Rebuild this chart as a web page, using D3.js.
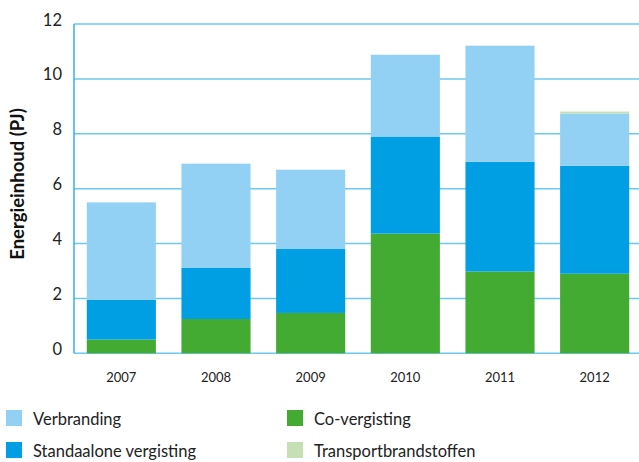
<!DOCTYPE html>
<html><head><meta charset="utf-8">
<script src="https://cdn.jsdelivr.net/npm/d3@7"></script>
<style>body{margin:0;background:#fff;}svg{display:block;font-family:Lato,sans-serif;}</style>
</head><body>
<svg id="c" width="639" height="462"></svg>
<script>
const years = ["2007","2008","2009","2010","2011","2012"];
const coVergisting = [0.5, 1.25, 1.47, 4.36, 2.98, 2.9];
const standalone = [1.45, 1.86, 2.33, 3.54, 4.0, 3.93];
const verbranding = [3.55, 3.8, 2.89, 2.98, 4.23, 1.91];
const transport = [0, 0, 0, 0, 0, 0.07];
const yTicks = [0, 2, 4, 6, 8, 10, 12];
const seriesNames = ["Co-vergisting","Standaalone vergisting","Verbranding","Transportbrandstoffen"];
const seriesColors = ["#43aa32","#009fe3","#92d1f3","#c5e0b4"];

const svg = d3.select("#c");
const x = d3.scaleBand().domain(years).range([74, 642]).paddingInner(0.27).paddingOuter(0.135);
const y = d3.scaleLinear().domain([0, 12]).range([353.3, 24]);

svg.append("g").selectAll("line").data(yTicks).join("line")
  .attr("x1", 74).attr("x2", 639)
  .attr("y1", d => y(d)).attr("y2", d => y(d))
  .attr("stroke", "#6ec8ef").attr("stroke-width", 1.5);
svg.append("line").attr("x1", 74).attr("x2", 74).attr("y1", y(12)).attr("y2", y(0))
  .attr("stroke", "#35b0e8").attr("stroke-width", 1.5);

const rows = years.map((yr, i) => ({year: yr, s0: coVergisting[i], s1: standalone[i], s2: verbranding[i], s3: transport[i]}));
const stacked = d3.stack().keys(["s0","s1","s2","s3"])(rows);
svg.append("g").selectAll("g").data(stacked).join("g")
  .attr("fill", (d, i) => seriesColors[i])
  .selectAll("rect").data(d => d).join("rect")
  .attr("x", d => x(d.data.year)).attr("width", x.bandwidth())
  .attr("y", d => y(d[1])).attr("height", d => Math.max(0, y(d[0]) - y(d[1])));

svg.append("g").selectAll("text").data(yTicks).join("text")
  .attr("x", 62).attr("y", d => y(d) + 1.5).attr("text-anchor", "end")
  .attr("font-size", 16.5).attr("fill", "#222").text(d => d);

svg.append("g").selectAll("text").data(years).join("text")
  .attr("x", d => x(d) + x.bandwidth() / 2).attr("y", 381.5).attr("text-anchor", "middle")
  .attr("font-size", 13).attr("fill", "#222").text(d => d);

svg.append("text").attr("transform", "translate(23.5,184) rotate(-90)")
  .attr("text-anchor", "middle").attr("font-size", 18.5).attr("font-weight", 700)
  .attr("fill", "#111").text("Energieinhoud (PJ)");

const legendItems = [
  {name: seriesNames[2], color: seriesColors[2], x: 6, y: 410},
  {name: seriesNames[0], color: seriesColors[0], x: 287, y: 410},
  {name: seriesNames[1], color: seriesColors[1], x: 6, y: 442},
  {name: seriesNames[3], color: seriesColors[3], x: 287, y: 442}
];
const lg = svg.append("g").selectAll("g").data(legendItems).join("g")
  .attr("transform", d => `translate(${d.x},${d.y})`);
lg.append("rect").attr("width", 16).attr("height", 16).attr("fill", d => d.color);
lg.append("text").attr("x", 27).attr("y", 15).attr("font-size", 16.5).attr("fill", "#222").text(d => d.name);
</script>
</body></html>
